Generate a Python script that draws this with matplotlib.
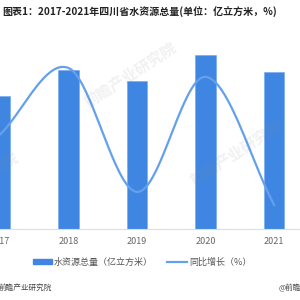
import numpy as np
import matplotlib.pyplot as plt

plt.rcParams['font.family'] = ['Noto Sans CJK SC', 'DejaVu Sans']

years = ['2017', '2018', '2019', '2020', '2021']
water = [2467.1, 2952.6, 2748.9, 3237.3, 2924.5]   # 亿立方米
growth = [5.4, 19.7, -6.9, 17.8, -9.7]             # %

bar_color = '#3f86e2'
line_color = '#64a0ec'


def smooth(xs, ys, n=40):
    # Catmull-Rom style cubic Hermite through the points
    xs = np.asarray(xs, float)
    ys = np.asarray(ys, float)
    m = np.zeros_like(ys)
    m[1:-1] = (ys[2:] - ys[:-2]) / (xs[2:] - xs[:-2])
    m[0] = ys[1] - ys[0]
    m[-1] = ys[-1] - ys[-2]
    px, py = [], []
    for i in range(len(xs) - 1):
        t = np.linspace(0, 1, n)
        h = xs[i + 1] - xs[i]
        h00 = 2 * t**3 - 3 * t**2 + 1
        h10 = t**3 - 2 * t**2 + t
        h01 = -2 * t**3 + 3 * t**2
        h11 = t**3 - t**2
        px.append(xs[i] + t * h)
        py.append(h00 * ys[i] + h10 * h * m[i] + h01 * ys[i + 1] + h11 * h * m[i + 1])
    return np.concatenate(px), np.concatenate(py)


fig = plt.figure(figsize=(3, 3), dpi=100)
ax = fig.add_axes([0, 0.2367, 1, 0.6267])
x = np.arange(len(years))

ax.bar(x, water, width=0.30, color=bar_color, edgecolor='#6fa6ee', linewidth=0.4, zorder=2)
ax.set_ylim(0, 3500)
ax.set_xlim(2 / 69, 302 / 69)
ax.set_xticks(x)
ax.set_xticklabels(years, fontsize=6.5, color='#666666')
ax.tick_params(axis='x', length=0, pad=6)
ax.set_yticks([])
for s in ['top', 'left', 'right']:
    ax.spines[s].set_visible(False)
ax.spines['bottom'].set_color('#dddddd')
ax.spines['bottom'].set_linewidth(0.8)

ax2 = ax.twinx()
sx, sy = smooth(x, growth)
ax2.plot(sx, sy, color=line_color, linewidth=1.6, zorder=3)
ax2.set_ylim(-14.85, 25.5)
ax2.set_yticks([])
for s in ax2.spines.values():
    s.set_visible(False)

# faint watermarks
for wx, wy in [(130, 75), (236, 153), (-28, 185)]:
    fig.text(wx / 300, 1 - wy / 300, '前瞻产业研究院', fontsize=11, fontweight='bold',
             color='#8a8a8a', alpha=0.12, rotation=33, ha='center', va='center', zorder=5)

fig.text(0.007, 0.958, '图表1：2017-2021年四川省水资源总量(单位：亿立方米，%)',
         fontsize=7.2, fontweight='bold', color='#222222', va='center', ha='left')

# legend
fig.patches.append(plt.Rectangle((33 / 300, 1 - 264 / 300), 19 / 300, 5 / 300,
                                 transform=fig.transFigure, color=bar_color))
fig.text(54 / 300, 1 - 262 / 300, '水资源总量（亿立方米）', fontsize=6.5,
         color='#555555', va='center', ha='left')
fig.lines.append(plt.Line2D([167 / 300, 187 / 300], [1 - 262 / 300, 1 - 262 / 300],
                            transform=fig.transFigure, color=line_color, linewidth=1.6))
fig.text(189 / 300, 1 - 262 / 300, '同比增长（%）', fontsize=6.5,
         color='#555555', va='center', ha='left')

fig.text(-0.005, 1 - 288 / 300, '前瞻产业研究院', fontsize=5.5, color='#444444',
         va='center', ha='left')
fig.text(0.928, 1 - 288 / 300, '@前瞻', fontsize=5.5, color='#444444',
         va='center', ha='left')

fig.savefig('out.png', dpi=100)
